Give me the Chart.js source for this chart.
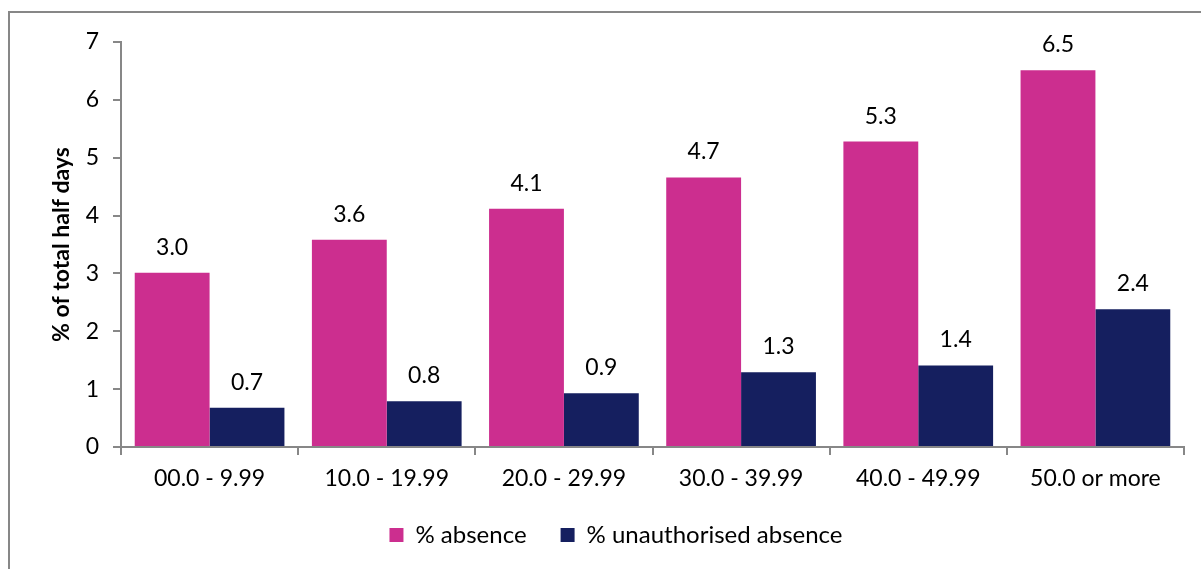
<!DOCTYPE html>
<html>
<head>
<meta charset="utf-8">
<script src="https://cdn.jsdelivr.net/npm/chart.js@4/dist/chart.umd.min.js"></script>
<style>
  html, body { margin: 0; padding: 0; background: #fff; }
  #wrap { width: 1201px; height: 569px; position: relative; }
</style>
</head>
<body>
<div id="wrap"><canvas id="myChart"></canvas></div>
<script>
const categories = ['00.0 - 9.99', '10.0 - 19.99', '20.0 - 29.99', '30.0 - 39.99', '40.0 - 49.99', '50.0 or more']
const absence = [3.01, 3.58, 4.12, 4.66, 5.28, 6.51]
const unauthorised = [0.68, 0.79, 0.93, 1.29, 1.41, 2.38]
const yTicks = [0, 1, 2, 3, 4, 5, 6, 7]

const FONT = 'Lato, "Open Sans", sans-serif'
const axisGrey = '#878787'

// grey frame around the chart (only top and left show in the picture)
const frame = {
    id: 'frame',
    beforeDraw(chart) {
        const c = chart.ctx
        c.save()
        c.strokeStyle = axisGrey
        c.lineWidth = 2
        c.strokeRect(9, 12, 1400, 800)
        c.restore()
    }
}

// legend sits a bit right of the canvas centre
const legendShift = {
    id: 'legendShift',
    afterLayout(chart) {
        chart.legend.left += 24
        chart.legend.right += 24
    }
}

// numbers above every bar
const barLabels = {
    id: 'barLabels',
    afterDatasetsDraw(chart) {
        const c = chart.ctx
        c.save()
        c.font = '23px ' + FONT
        c.fillStyle = '#000'
        c.textAlign = 'center'
        c.textBaseline = 'alphabetic'
        chart.data.datasets.forEach((ds, i) => {
            chart.getDatasetMeta(i).data.forEach((bar, j) => {
                c.fillText(ds.data[j].toFixed(1), bar.x, bar.y - 18)
            })
        })
        c.restore()
    }
}

const ctx = document.getElementById('myChart').getContext('2d')
const myChart = new Chart(ctx, {
    type: 'bar',
    data: {
        labels: categories,
        datasets: [{
            label: '% absence',
            data: absence,
            backgroundColor: '#CC2E8F',
            categoryPercentage: 0.845,
            barPercentage: 1
        }, {
            label: '% unauthorised absence',
            data: unauthorised,
            backgroundColor: '#151F5F',
            categoryPercentage: 0.845,
            barPercentage: 1
        }]
    },
    options: {
        responsive: true,
        maintainAspectRatio: false,
        animation: false,
        layout: { padding: { top: 42, right: 17, left: 0, bottom: 12 } },
        plugins: {
            tooltip: { enabled: false },
            legend: {
                position: 'bottom',
                labels: {
                    font: { size: 24, family: FONT },
                    color: '#000',
                    boxWidth: 14,
                    boxHeight: 14,
                    padding: 34
                }
            }
        },
        scales: {
            x: {
                grid: {
                    display: true,
                    drawOnChartArea: false,
                    tickLength: 8,
                    color: axisGrey,
                    lineWidth: 2
                },
                border: { color: axisGrey, width: 2 },
                ticks: { color: '#000', font: { size: 23, family: FONT }, padding: 10, maxRotation: 0 },
                afterFit(scale) { scale.height = 42 }
            },
            y: {
                min: 0,
                max: 7,
                afterBuildTicks(scale) { scale.ticks = yTicks.map(v => ({ value: v })) },
                grid: {
                    display: true,
                    drawOnChartArea: false,
                    tickLength: 8,
                    color: axisGrey,
                    lineWidth: 2
                },
                border: { color: axisGrey, width: 2 },
                ticks: { color: '#000', font: { size: 23, family: FONT }, padding: 14 },
                title: {
                    display: true,
                    text: '% of total half days',
                    color: '#000',
                    padding: { top: 48, bottom: 0 },
                    font: { size: 23, weight: 'bold', family: FONT }
                },
                afterFit(scale) { scale.width = 121 }
            }
        }
    },
    plugins: [frame, legendShift, barLabels]
})
</script>
</body>
</html>
